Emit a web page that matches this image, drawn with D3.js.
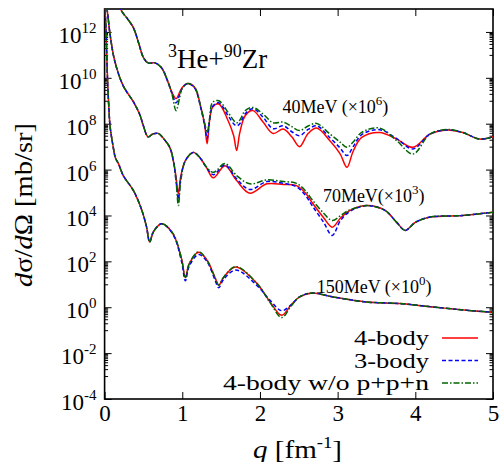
<!DOCTYPE html>
<html>
<head>
<meta charset="utf-8">
<script src="https://cdn.jsdelivr.net/npm/d3@7"></script>
<style>
  body { margin: 0; background: #fff; }
  svg text { font-family: "Liberation Serif", "DejaVu Serif", serif; fill: #000; }
</style>
</head>
<body>
<script>
// values are log10 of dsigma/dOmega (already multiplied by the energy factor)
const q40 = [0.16, 0.22, 0.30, 0.37, 0.44, 0.50, 0.56, 0.65, 0.735, 0.82, 0.87, 0.92, 0.97, 1.00, 1.07, 1.16, 1.24, 1.29, 1.32, 1.35, 1.39, 1.47, 1.59, 1.66, 1.70, 1.74, 1.81, 1.91, 2.04, 2.17, 2.30, 2.41, 2.51, 2.62, 2.73, 2.90, 3.03, 3.12, 3.20, 3.31, 3.54, 3.76, 3.97, 4.19, 4.41, 4.61, 4.83, 5.00];
const body4_40 = [13.4, 12.91, 12.55, 12.19, 11.5, 10.88, 10.65, 10.65, 10.43, 9.78, 9.35, 9.09, 9.4, 9.58, 9.75, 9.58, 8.71, 7.9, 7.13, 8.1, 8.71, 8.86, 8.13, 7.5, 6.83, 7.6, 8.35, 8.57, 8.07, 7.57, 7.77, 7.43, 7.0, 7.57, 7.81, 7.26, 6.7, 6.10, 6.8, 7.40, 7.62, 7.33, 6.97, 7.55, 7.73, 7.62, 7.33, 7.43];
const body3_40 = [13.4, 12.91, 12.55, 12.19, 11.5, 10.88, 10.65, 10.65, 10.43, 9.78, 9.3, 8.91, 9.3, 9.55, 9.75, 9.55, 8.65, 7.9, 7.35, 8.1, 8.75, 8.91, 8.35, 8.0, 7.91, 8.0, 8.43, 8.65, 8.28, 7.78, 7.91, 7.65, 7.48, 7.75, 7.91, 7.39, 6.95, 6.61, 7.0, 7.52, 7.74, 7.35, 6.90, 7.55, 7.73, 7.62, 7.33, 7.43];
const noPPN_40 = [13.4, 12.91, 12.55, 12.19, 11.5, 10.88, 10.65, 10.65, 10.43, 9.78, 9.25, 8.57, 9.2, 9.55, 9.75, 9.58, 8.7, 8.0, 7.61, 8.2, 8.93, 9.0, 8.49, 8.15, 8.04, 8.15, 8.57, 8.71, 8.42, 8.04, 8.07, 7.87, 7.70, 7.9, 8.01, 7.55, 7.2, 6.97, 7.2, 7.62, 7.81, 7.26, 6.68, 7.55, 7.75, 7.62, 7.33, 7.43];

const q70 = [0.0, 0.035, 0.07, 0.13, 0.24, 0.37, 0.455, 0.50, 0.56, 0.62, 0.69, 0.76, 0.84, 0.89, 0.92, 0.95, 0.98, 1.04, 1.14, 1.22, 1.31, 1.40, 1.55, 1.70, 1.87, 2.09, 2.30, 2.47, 2.58, 2.68, 2.82, 2.93, 3.04, 3.16, 3.38, 3.61, 3.76, 3.87, 4.00, 4.19, 4.61, 5.00];
const body4_70 = [13.6, 12.9, 11.9, 10.74, 9.65, 8.96, 8.38, 7.9, 7.43, 7.55, 7.58, 7.35, 6.96, 6.3, 5.67, 4.95, 5.7, 6.39, 6.75, 6.55, 6.10, 5.64, 6.17, 5.52, 4.97, 5.38, 5.35, 5.30, 5.0, 4.52, 3.9, 3.49, 3.9, 4.22, 4.43, 4.22, 3.7, 3.35, 3.7, 3.93, 4.0, 4.14];
const body3_70 = [13.6, 12.9, 11.9, 10.74, 9.65, 8.96, 8.38, 7.9, 7.43, 7.55, 7.58, 7.35, 6.96, 6.3, 5.5, 4.7, 5.6, 6.39, 6.75, 6.55, 6.10, 5.78, 6.2, 5.6, 5.13, 5.48, 5.40, 5.25, 4.9, 4.39, 3.7, 3.13, 3.8, 4.18, 4.43, 4.22, 3.7, 3.35, 3.7, 3.93, 4.0, 4.14];
const noPPN_70 = [13.6, 12.9, 11.9, 10.74, 9.65, 8.96, 8.38, 7.9, 7.43, 7.55, 7.58, 7.35, 6.96, 6.3, 5.5, 4.43, 5.5, 6.39, 6.75, 6.55, 6.12, 5.88, 6.26, 5.74, 5.38, 5.55, 5.48, 5.40, 5.1, 4.65, 4.1, 3.78, 4.0, 4.25, 4.43, 4.22, 3.7, 3.35, 3.7, 3.93, 4.0, 4.14];

const q150 = [0.0, 0.02, 0.04, 0.055, 0.07, 0.11, 0.14, 0.18, 0.24, 0.37, 0.48, 0.54, 0.58, 0.63, 0.735, 0.88, 0.99, 1.04, 1.09, 1.21, 1.32, 1.42, 1.47, 1.53, 1.69, 1.96, 2.13, 2.28, 2.40, 2.51, 2.67, 2.94, 3.37, 3.80, 4.23, 4.66, 5.00];
const body4_150 = [13.5, 11.9, 9.7, 8.7, 7.9, 7.0, 6.5, 6.25, 5.74, 5.09, 4.22, 3.5, 2.84, 3.3, 3.64, 3.20, 2.12, 1.30, 1.9, 2.40, 2.04, 1.3, 0.96, 1.3, 1.75, 1.04, 0.23, -0.35, 0.1, 0.45, 0.62, 0.45, 0.23, 0.16, 0.01, -0.13, -0.22];
const body3_150 = [13.5, 11.9, 9.7, 8.7, 7.9, 7.0, 6.5, 6.25, 5.74, 5.09, 4.22, 3.5, 2.84, 3.3, 3.64, 3.18, 2.0, 1.15, 1.8, 2.3, 1.98, 1.2, 0.85, 1.2, 1.62, 0.95, 0.3, -0.15, 0.1, 0.45, 0.62, 0.45, 0.23, 0.16, 0.01, -0.13, -0.22];
const noPPN_150 = [13.5, 11.9, 9.7, 8.7, 7.9, 7.0, 6.5, 6.25, 5.74, 5.09, 4.22, 3.5, 2.84, 3.3, 3.64, 3.22, 2.12, 1.30, 1.9, 2.42, 2.04, 1.3, 0.96, 1.3, 1.77, 1.04, 0.2, -0.45, 0.05, 0.45, 0.62, 0.45, 0.23, 0.16, 0.01, -0.13, -0.22];

const xTicks = [0, 1, 2, 3, 4, 5];
const yExponents = [-4, -2, 0, 2, 4, 6, 8, 10, 12];

const seriesNames = ["4-body", "3-body", "4-body w/o p+p+n"];
const energyLabels = [
  { text: "40MeV (×10", exp: "6", q: 2.29, v: 8.47 },
  { text: "70MeV(×10", exp: "3", q: 2.81, v: 4.59 },
  { text: "150MeV (×10", exp: "0", q: 2.73, v: 0.62 }
];

const width = 501, height = 462;
const margin = { top: 9, right: 8, bottom: 63, left: 104.6 };

const svg = d3.select("body").append("svg")
  .attr("width", width)
  .attr("height", height);

const x = d3.scaleLinear()
  .domain([0, 5])
  .range([margin.left, width - margin.right]);

const y = d3.scaleLog()
  .domain([1e-4, 1e13])
  .range([height - margin.bottom, margin.top]);

const styles = [
  { color: "#ff0000", dash: null },
  { color: "#0000ff", dash: "4,2.5" },
  { color: "#006400", dash: "6,2,1.5,2" }
];

// clip for the curves
svg.append("clipPath").attr("id", "plot-clip")
  .append("rect")
  .attr("x", x(0)).attr("y", y(1e13))
  .attr("width", x(5) - x(0)).attr("height", y(1e-4) - y(1e13));

// ticks: major every 2 decades, minor at k*10^odd
const majorVals = yExponents.map(e => Math.pow(10, e));
const minorVals = [];
for (let e = -3; e <= 12; e += 2) {
  for (let k = 1; k <= 9; k++) minorVals.push(k * Math.pow(10, e));
}

svg.append("g")
  .attr("transform", `translate(${x(0)},0)`)
  .call(d3.axisLeft(y).tickValues(majorVals).tickSizeInner(-7).tickSizeOuter(0).tickFormat(""));
svg.append("g")
  .attr("transform", `translate(${x(0)},0)`)
  .call(d3.axisLeft(y).tickValues(minorVals).tickSizeInner(-3.5).tickSizeOuter(0).tickFormat(""));
svg.append("g")
  .attr("transform", `translate(${x(5)},0)`)
  .call(d3.axisRight(y).tickValues(majorVals).tickSizeInner(-7).tickSizeOuter(0).tickFormat(""));
svg.append("g")
  .attr("transform", `translate(${x(5)},0)`)
  .call(d3.axisRight(y).tickValues(minorVals).tickSizeInner(-3.5).tickSizeOuter(0).tickFormat(""));

svg.append("g")
  .attr("transform", `translate(0,${y(1e-4)})`)
  .call(d3.axisBottom(x).tickValues(xTicks).tickSizeInner(-7).tickSizeOuter(0).tickPadding(6).tickFormat(d3.format("d")))
  .call(g => g.selectAll("text").style("font-size", "23px").style("font-family", "Liberation Serif"));
svg.append("g")
  .attr("transform", `translate(0,${y(1e13)})`)
  .call(d3.axisTop(x).tickValues(xTicks).tickSizeInner(-7).tickSizeOuter(0).tickFormat(""));

svg.selectAll(".domain").remove();
svg.selectAll(".tick line").attr("stroke", "#000").attr("stroke-width", 1);

// y tick labels 10^n
yExponents.forEach(e => {
  const t = svg.append("text")
    .attr("x", x(0) - 8)
    .attr("y", y(Math.pow(10, e)) + 11)
    .attr("text-anchor", "end")
    .style("font-size", "23px");
  t.append("tspan").text("10");
  t.append("tspan").attr("dy", -10).style("font-size", "15px").text(e);
});

// frame
svg.append("rect")
  .attr("x", x(0)).attr("y", y(1e13))
  .attr("width", x(5) - x(0)).attr("height", y(1e-4) - y(1e13))
  .attr("fill", "none").attr("stroke", "#000").attr("stroke-width", 1.6);

// curves
const line = d3.line()
  .x(d => x(d[0]))
  .y(d => y(Math.pow(10, d[1])))
  .curve(d3.curveCatmullRom.alpha(0.5));

const groups = [
  [q40, [body4_40, body3_40, noPPN_40]],
  [q70, [body4_70, body3_70, noPPN_70]],
  [q150, [body4_150, body3_150, noPPN_150]]
];

const curves = svg.append("g").attr("clip-path", "url(#plot-clip)");
[0, 1, 2].forEach(s => {
  groups.forEach(([qs, sets]) => {
    curves.append("path")
      .datum(qs.map((q, i) => [q, sets[s][i]]))
      .attr("d", line)
      .attr("fill", "none")
      .attr("stroke", styles[s].color)
      .attr("stroke-width", 1.5)
      .attr("stroke-dasharray", styles[s].dash);
  });
});

// energy labels
energyLabels.forEach(l => {
  const t = svg.append("text")
    .attr("x", x(l.q))
    .attr("y", y(Math.pow(10, l.v)))
    .style("font-size", "18px");
  t.append("tspan").text(l.text);
  t.append("tspan").attr("dy", -8).style("font-size", "13px").text(l.exp);
  t.append("tspan").attr("dy", 8).text(")");
});

// reaction title
const title = svg.append("text")
  .attr("x", 168).attr("y", 68)
  .style("font-size", "27px");
title.append("tspan").attr("dy", -11).style("font-size", "18px").text("3");
title.append("tspan").attr("dy", 11).text("He+");
title.append("tspan").attr("dy", -11).style("font-size", "18px").text("90");
title.append("tspan").attr("dy", 11).text("Zr");

// legend
const legendLen = [75, 75, 206];
seriesNames.forEach((name, i) => {
  const ly = 338 + i * 22.5;
  svg.append("text")
    .attr("x", 429).attr("y", ly + 7)
    .attr("text-anchor", "end")
    .attr("textLength", legendLen[i])
    .attr("lengthAdjust", "spacingAndGlyphs")
    .style("font-size", "21px")
    .text(name);
  svg.append("line")
    .attr("x1", 442).attr("x2", 478)
    .attr("y1", ly).attr("y2", ly)
    .attr("stroke", styles[i].color)
    .attr("stroke-width", 1.5)
    .attr("stroke-dasharray", styles[i].dash);
});

// axis titles
const xt = svg.append("text")
  .attr("x", 253).attr("y", 458)
  .attr("textLength", 89)
  .attr("lengthAdjust", "spacingAndGlyphs")
  .style("font-size", "25px");
xt.append("tspan").style("font-style", "italic").text("q");
xt.append("tspan").text(" [fm");
xt.append("tspan").attr("dy", -10).style("font-size", "16px").text("-1");
xt.append("tspan").attr("dy", 10).text("]");

const yt = svg.append("text")
  .attr("transform", "translate(32,205) rotate(-90)")
  .attr("text-anchor", "middle")
  .attr("textLength", 164)
  .attr("lengthAdjust", "spacingAndGlyphs")
  .style("font-size", "25px");
yt.append("tspan").style("font-style", "italic").text("d");
yt.append("tspan").text("σ/");
yt.append("tspan").style("font-style", "italic").text("d");
yt.append("tspan").text("Ω [mb/sr]");
</script>
</body>
</html>
